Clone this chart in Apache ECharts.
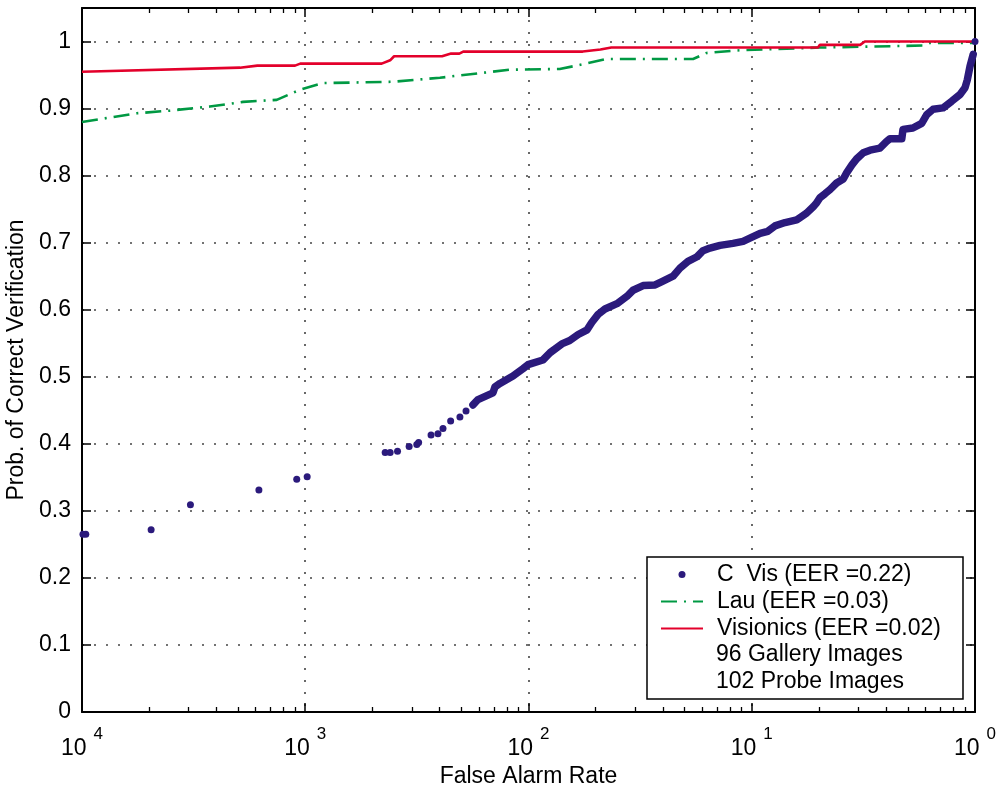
<!DOCTYPE html>
<html>
<head>
<meta charset="utf-8">
<script src="https://cdn.jsdelivr.net/npm/echarts@6/dist/echarts.min.js"></script>
<style>html,body{margin:0;padding:0;background:#fff}#c{width:996px;height:789px}</style>
</head>
<body>
<div id="c"></div>
<script>
// ---- data ----
var xMajorTicks = [1e-4, 1e-3, 1e-2, 1e-1, 1];
var xMajorExps = ['4', '3', '2', '1', '0'];
var xMinorTicks = [2e-4,3e-4,4e-4,5e-4,6e-4,7e-4,8e-4,9e-4,
                   2e-3,3e-3,4e-3,5e-3,6e-3,7e-3,8e-3,9e-3,
                   2e-2,3e-2,4e-2,5e-2,6e-2,7e-2,8e-2,9e-2,
                   0.2,0.3,0.4,0.5,0.6,0.7,0.8,0.9];

var visName = 'C  Vis (EER =0.22)';
var lauName = 'Lau (EER =0.03)';
var vicName = 'Visionics (EER =0.02)';
var noteLines = ['96 Gallery Images', '102 Probe Images'];

// C Vis: isolated dots
var visSparseX = [1.01e-4, 1.04e-4, 2.04e-4, 3.06e-4, 6.2e-4, 9.16e-4, 1.02e-3, 2.28e-3, 2.4e-3, 2.59e-3, 2.92e-3, 3.16e-3, 3.22e-3, 3.66e-3, 3.93e-3, 4.14e-3, 4.48e-3, 4.93e-3, 5.25e-3, 1];
var visSparseY = [0.265, 0.265, 0.272, 0.309, 0.331, 0.347, 0.351, 0.387, 0.387, 0.389, 0.396, 0.399, 0.402, 0.413, 0.415, 0.423, 0.434, 0.440, 0.449, 1.0];
// C Vis: dense run of dots
var visDenseX = [5.64e-3, 5.94e-3, 6.93e-3, 7.08e-3, 7.45e-3, 8.52e-3, 9.44e-3, 9.95e-3, 1.16e-2, 1.25e-2,
                 1.41e-2, 1.53e-2, 1.67e-2, 1.83e-2, 1.92e-2, 2.05e-2, 2.20e-2, 2.49e-2, 2.76e-2, 2.94e-2,
                 3.26e-2, 3.69e-2, 3.96e-2, 4.44e-2, 4.77e-2, 5.18e-2, 5.69e-2, 6.05e-2, 6.50e-2, 7.21e-2,
                 8.24e-2, 9.14e-2, 0.1014, 0.109, 0.118, 0.127, 0.141, 0.159, 0.164, 0.176,
                 0.189, 0.195, 0.202, 0.213, 0.224, 0.240, 0.257, 0.266, 0.281, 0.295,
                 0.316, 0.339, 0.375, 0.402, 0.416, 0.470, 0.476, 0.527, 0.577, 0.608,
                 0.649, 0.719, 0.787, 0.857, 0.902, 0.924, 0.950, 0.982];
var visDenseY = [0.458, 0.466, 0.476, 0.485, 0.490, 0.501, 0.512, 0.518, 0.525, 0.536,
                 0.549, 0.554, 0.563, 0.570, 0.581, 0.593, 0.601, 0.609, 0.620, 0.629,
                 0.636, 0.637, 0.642, 0.650, 0.662, 0.672, 0.679, 0.688, 0.692, 0.696,
                 0.699, 0.702, 0.709, 0.714, 0.717, 0.725, 0.730, 0.734, 0.737, 0.744,
                 0.754, 0.759, 0.767, 0.773, 0.779, 0.789, 0.795, 0.804, 0.816, 0.825,
                 0.834, 0.838, 0.841, 0.851, 0.855, 0.855, 0.869, 0.871, 0.878, 0.891,
                 0.899, 0.901, 0.911, 0.921, 0.931, 0.943, 0.963, 0.981];

var lauX = [1e-4, 1.76e-4, 2.48e-4, 3.74e-4, 5.26e-4, 7.45e-4, 9.47e-4, 1.20e-3, 2.47e-3, 4.01e-3,
            8.27e-3, 1.38e-2, 1.75e-2, 2.24e-2, 5.46e-2, 6.28e-2, 8.86e-2, 0.202, 0.585, 0.629, 1];
var lauY = [0.880, 0.893, 0.897, 0.903, 0.910, 0.913, 0.928, 0.938, 0.940, 0.946,
            0.958, 0.959, 0.966, 0.974, 0.974, 0.983, 0.987, 0.991, 0.994, 0.998, 0.998];

var vicX = [1e-4, 5.1e-4, 6.1e-4, 9.0e-4, 9.5e-4, 2.2e-3, 2.4e-3, 2.5e-3, 4.1e-3, 4.5e-3,
            4.9e-3, 5.1e-3, 1.75e-2, 2.1e-2, 2.35e-2, 0.198, 0.202, 0.306, 0.321, 1];
var vicY = [0.955, 0.961, 0.964, 0.964, 0.967, 0.967, 0.972, 0.978, 0.978, 0.982,
            0.982, 0.985, 0.985, 0.988, 0.991, 0.991, 0.995, 0.995, 1.0, 1.0];

function zip(a, b) { return a.map(function (v, i) { return [v, b[i]]; }); }
function expLabel(v) {
  for (var i = 0; i < xMajorTicks.length; i++) {
    if (Math.abs(v - xMajorTicks[i]) <= xMajorTicks[i] * 1e-6) return '{b|10}{s|' + xMajorExps[i] + '}';
  }
  return '';
}

var FONT = 'Liberation Sans, Arial, Helvetica, sans-serif';
var FS = 23;
var BLUE = '#2b1a7c', GREEN = '#009943', RED = '#e3002b';
var gridDot = { show: true, lineStyle: { color: '#444', width: 1.6, type: [2, 10] } };

var chart = echarts.init(document.getElementById('c'), null, { renderer: 'canvas' });
var option = {
  animation: false,
  backgroundColor: '#fff',
  textStyle: { fontFamily: FONT },
  grid: { left: 82, right: 21, top: 8, bottom: 77, containLabel: false, outerBoundsMode: 'none' },
  xAxis: [
    { type: 'log', min: 1e-4, max: 1, position: 'bottom',
      name: 'False Alarm Rate', nameLocation: 'middle', nameGap: 49,
      nameTextStyle: { fontSize: FS, color: '#000', fontFamily: FONT },
      axisLine: { show: true, lineStyle: { color: '#000', width: 2 } },
      axisTick: { show: true, inside: true, length: 9, customValues: xMajorTicks, lineStyle: { color: '#000', width: 1.5 } },
      axisLabel: { show: true, margin: 14, customValues: xMajorTicks,
        formatter: expLabel,
        rich: { b: { fontSize: FS, fontFamily: FONT, color: '#000', lineHeight: 34, verticalAlign: 'bottom' },
                s: { fontSize: 17, fontFamily: FONT, color: '#000', padding: [0, 0, 0, 7], verticalAlign: 'top' } } },
      splitLine: gridDot },
    { type: 'log', min: 1e-4, max: 1, position: 'bottom',
      axisLine: { show: false }, axisLabel: { show: false }, splitLine: { show: false },
      axisTick: { show: true, inside: true, length: 5, customValues: xMinorTicks, lineStyle: { color: '#000', width: 1.3 } } },
    { type: 'log', min: 1e-4, max: 1, position: 'top',
      axisLine: { show: true, lineStyle: { color: '#000', width: 2 } }, axisLabel: { show: false }, splitLine: { show: false },
      axisTick: { show: true, inside: true, length: 9, customValues: xMajorTicks, lineStyle: { color: '#000', width: 1.5 } } },
    { type: 'log', min: 1e-4, max: 1, position: 'top',
      axisLine: { show: false }, axisLabel: { show: false }, splitLine: { show: false },
      axisTick: { show: true, inside: true, length: 5, customValues: xMinorTicks, lineStyle: { color: '#000', width: 1.3 } } }
  ],
  yAxis: [
    { type: 'value', min: 0, max: 1.05, interval: 0.1, position: 'left',
      name: 'Prob. of Correct Verification', nameLocation: 'middle', nameGap: 47,
      nameTextStyle: { fontSize: FS, color: '#000', fontFamily: FONT },
      axisLine: { show: true, lineStyle: { color: '#000', width: 2 } },
      axisTick: { show: true, inside: true, length: 9, lineStyle: { color: '#000', width: 1.5 } },
      axisLabel: { fontSize: FS, color: '#000', fontFamily: FONT, margin: 11, showMaxLabel: false },
      splitLine: gridDot },
    { type: 'value', min: 0, max: 1.05, interval: 0.1, position: 'right',
      axisLine: { show: true, lineStyle: { color: '#000', width: 2 } },
      axisTick: { show: true, inside: true, length: 9, lineStyle: { color: '#000', width: 1.5 } },
      axisLabel: { show: false }, splitLine: { show: false } }
  ],
  legend: {
    orient: 'vertical', left: 655, top: 558, padding: 5,
    itemWidth: 42, itemHeight: 7, itemGap: 4,
    data: [
      { name: visName, itemStyle: { opacity: 1 } },
      { name: lauName, itemStyle: { opacity: 0 } },
      { name: vicName, itemStyle: { opacity: 0 } }
    ],
    textStyle: { fontSize: FS, color: '#000', fontFamily: FONT, lineHeight: 23, padding: [0, 0, 0, 9] },
    z: 6
  },
  graphic: [
    { type: 'rect', z: 5, shape: { x: 647, y: 557, width: 316, height: 142 },
      style: { fill: '#fff', stroke: '#000', lineWidth: 1.5 } },
    { type: 'text', z: 7, x: 716, y: 655, style: { text: noteLines[0], fontSize: FS, fontFamily: FONT, fill: '#000', verticalAlign: 'middle' } },
    { type: 'text', z: 7, x: 716, y: 682, style: { text: noteLines[1], fontSize: FS, fontFamily: FONT, fill: '#000', verticalAlign: 'middle' } }
  ],
  series: [
    { name: visName, type: 'scatter', xAxisIndex: 0, yAxisIndex: 0, z: 4,
      data: zip(visSparseX, visSparseY), symbol: 'circle', symbolSize: 7,
      itemStyle: { color: BLUE, opacity: 1 } },
    { name: visName, type: 'line', xAxisIndex: 0, yAxisIndex: 0, z: 4,
      data: zip(visDenseX, visDenseY), symbol: 'none',
      lineStyle: { color: BLUE, width: 7.5, cap: 'round', join: 'round' }, itemStyle: { color: BLUE } },
    { name: lauName, type: 'line', xAxisIndex: 0, yAxisIndex: 0, z: 3,
      data: zip(lauX, lauY), symbol: 'none',
      lineStyle: { color: GREEN, width: 2.6, type: [16, 7, 2, 7] }, itemStyle: { color: GREEN } },
    { name: vicName, type: 'line', xAxisIndex: 0, yAxisIndex: 0, z: 3,
      data: zip(vicX, vicY), symbol: 'none',
      lineStyle: { color: RED, width: 2.6 }, itemStyle: { color: RED } }
  ]
};
chart.setOption(option);
</script>
</body>
</html>
